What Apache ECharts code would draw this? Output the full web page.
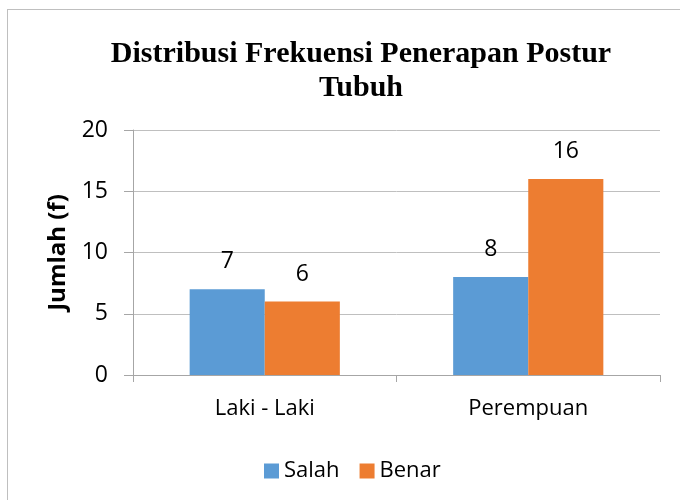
<!DOCTYPE html>
<html>
<head>
<meta charset="utf-8">
<script src="https://cdn.jsdelivr.net/npm/echarts@6/dist/echarts.min.js"></script>
<style>
  html, body { margin: 0; padding: 0; background: #fff; }
  #frame { position: absolute; left: 7px; top: 9px; width: 700px; height: 520px; border: 1px solid #bfbfbf; box-sizing: border-box; }
  #chart { position: absolute; left: 0; top: 0; width: 680px; height: 500px; }
</style>
</head>
<body>
<div id="frame"></div>
<div id="chart"></div>
<script>
// data
const categories = ['Laki - Laki', 'Perempuan']
const salah = [7, 8]
const benar = [6, 16]
const legendNames = ['Salah', 'Benar']

const chart = echarts.init(document.getElementById('chart'))
const labelFont = '"Open Sans", "Noto Sans", sans-serif'

chart.setOption({
  animation: false,
  title: {
    text: 'Distribusi Frekuensi Penerapan Postur\nTubuh',
    left: 356,
    textAlign: 'center',
    top: 32,
    textStyle: {
      fontFamily: '"Liberation Serif", "Times New Roman", serif',
      fontWeight: 'bold',
      fontSize: 30,
      lineHeight: 34,
      color: '#000'
    }
  },
  grid: {
    left: 133,
    right: 20,
    top: 130,
    bottom: 125
  },
  legend: {
    data: legendNames,
    left: 259,
    top: 455,
    icon: 'rect',
    itemWidth: 15,
    itemHeight: 15,
    itemGap: 20,
    textStyle: { fontFamily: labelFont, fontSize: 22, color: '#000' }
  },
  xAxis: {
    type: 'category',
    data: categories,
    axisLine: { lineStyle: { color: '#a6a6a6' } },
    axisTick: { show: true, length: 7, lineStyle: { color: '#a6a6a6' } },
    axisLabel: { margin: 23, fontFamily: labelFont, fontSize: 22, color: '#000' }
  },
  yAxis: {
    type: 'value',
    min: 0,
    max: 20,
    interval: 5,
    name: 'Jumlah (f)',
    nameLocation: 'middle',
    nameGap: 75,
    nameRotate: 90,
    nameMoveOverlap: false,
    nameTextStyle: { fontFamily: labelFont, fontWeight: 'bold', fontSize: 24, color: '#000', verticalAlign: 'middle' },
    axisLine: { show: true, lineStyle: { color: '#a6a6a6' } },
    axisTick: { show: true, length: 9, lineStyle: { color: '#a6a6a6' } },
    splitLine: { lineStyle: { color: '#bfbfbf' } },
    axisLabel: { margin: 25, fontFamily: labelFont, fontSize: 23, color: '#000' }
  },
  series: [
    {
      name: 'Salah',
      type: 'bar',
      data: salah,
      barGap: '0%',
      barCategoryGap: '43%',
      itemStyle: { color: '#5b9bd5' },
      label: { show: true, position: 'top', distance: 16, fontFamily: labelFont, fontSize: 23, color: '#000' }
    },
    {
      name: 'Benar',
      type: 'bar',
      data: benar,
      itemStyle: { color: '#ed7d31' },
      label: { show: true, position: 'top', distance: 16, fontFamily: labelFont, fontSize: 23, color: '#000' }
    }
  ]
})
</script>
</body>
</html>
